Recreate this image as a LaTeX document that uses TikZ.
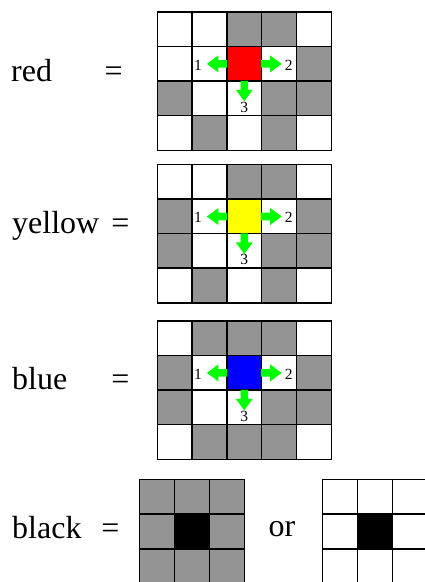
\documentclass[tikz,border=0pt]{standalone}
\usepackage{fontspec}
\setmainfont{Liberation Serif}
\definecolor{cgray}{RGB}{148,148,148}
\definecolor{agreen}{RGB}{0,255,0}
\definecolor{cred}{RGB}{255,0,0}
\definecolor{cyellow}{RGB}{255,255,0}
\definecolor{cblue}{RGB}{0,0,255}
% one row of square cells: name prefix, left edge, row centre, fills
\newcommand{\cellrow}[5]{%
  \foreach \f [count=\i] in {#5} {%
    \node[cell, minimum width=#4pt, minimum height=#4pt, fill=\f]
      (#1-\i) at ({#2+(\i-0.5)*#4}, #3) {};
  }%
}
% green block arrow leaving a cell side, rotated to its direction
\newcommand{\garrow}[2]{%
  \fill[agreen, shift={(#1)}, rotate=#2]
    (-0.5,-3.8) -- (8.5,-3.8) -- (8.5,-8.5) -- (20,0) -- (8.5,8.5)
    -- (8.5,3.8) -- (-0.5,3.8) -- cycle;
}
\tikzset{
  cell/.style={draw=black, line width=1.4pt, inner sep=0pt, outer sep=0pt},
  lbl/.style={font=\fontsize{32}{36}\selectfont, inner sep=0pt, anchor=base west},
  num/.style={font=\fontsize{15.5}{17}\selectfont, inner sep=0pt},
}
\begin{document}
\begin{tikzpicture}[x=1pt, y=-1pt]
\useasboundingbox (0,0) rectangle (424,582);

% ---- red ----
\node[lbl] (tred) at (11,81.7) {red};
\node[lbl] (ered) at (104.5,81.7) {=};
\cellrow{r1}{157.3}{29.2}{34.8}{white,white,cgray,cgray,white}
\cellrow{r2}{157.3}{63.9}{34.8}{white,white,cred,white,cgray}
\cellrow{r3}{157.3}{98.5}{34.8}{cgray,white,white,cgray,cgray}
\cellrow{r4}{157.3}{133.1}{34.8}{white,cgray,white,cgray,white}
\garrow{r2-3.west}{180}
\garrow{r2-3.east}{0}
\garrow{r2-3.south}{-90}
\node[num] (r1n) at ([xshift=-28.8pt, yshift=-1pt]r2-3.west) {1};
\node[num] (r2n) at ([xshift=27pt, yshift=-1pt]r2-3.east) {2};
\node[num] (r3n) at ([yshift=-26pt]r2-3.south) {3};

% ---- yellow ----
\node[lbl] (tyel) at (12,233.3) {yellow};
\node[lbl] (eyel) at (111.2,233.3) {=};
\cellrow{y1}{157.3}{181.8}{34.8}{white,white,cgray,cgray,white}
\cellrow{y2}{157.3}{216.5}{34.8}{cgray,white,cyellow,white,cgray}
\cellrow{y3}{157.3}{251.0}{34.8}{cgray,white,white,cgray,cgray}
\cellrow{y4}{157.3}{285.4}{34.8}{white,cgray,white,cgray,white}
\garrow{y2-3.west}{180}
\garrow{y2-3.east}{0}
\garrow{y2-3.south}{-90}
\node[num] (y1n) at ([xshift=-28.8pt, yshift=-1pt]y2-3.west) {1};
\node[num] (y2n) at ([xshift=27pt, yshift=-1pt]y2-3.east) {2};
\node[num] (y3n) at ([yshift=-26pt]y2-3.south) {3};

% ---- blue ----
\node[lbl] (tblu) at (12,389.3) {blue};
\node[lbl] (eblu) at (111.2,389.3) {=};
\cellrow{b1}{157.3}{338.2}{34.8}{white,cgray,cgray,cgray,white}
\cellrow{b2}{157.3}{372.9}{34.8}{cgray,white,cblue,white,cgray}
\cellrow{b3}{157.3}{407.4}{34.8}{cgray,white,white,cgray,cgray}
\cellrow{b4}{157.3}{441.9}{34.8}{white,cgray,cgray,cgray,white}
\garrow{b2-3.west}{180}
\garrow{b2-3.east}{0}
\garrow{b2-3.south}{-90}
\node[num] (b1n) at ([xshift=-28.8pt, yshift=-1pt]b2-3.west) {1};
\node[num] (b2n) at ([xshift=27pt, yshift=-1pt]b2-3.east) {2};
\node[num] (b3n) at ([yshift=-26pt]b2-3.south) {3};

% ---- black ----
\node[lbl] (tblk) at (12,538) {black};
\node[lbl] (eblk) at (101.2,538) {=};
\cellrow{k1}{139.7}{496.8}{35}{cgray,cgray,cgray}
\cellrow{k2}{139.7}{531.6}{35}{cgray,black,cgray}
\cellrow{k3}{139.7}{566.4}{35}{cgray,cgray,cgray}
\node[lbl] (tor) at (268.5,536) {or};
\cellrow{w1}{322.7}{496.8}{35}{white,white,white}
\cellrow{w2}{322.7}{531.6}{35}{white,black,white}
\cellrow{w3}{322.7}{566.4}{35}{white,white,white}
\end{tikzpicture}
\end{document}
